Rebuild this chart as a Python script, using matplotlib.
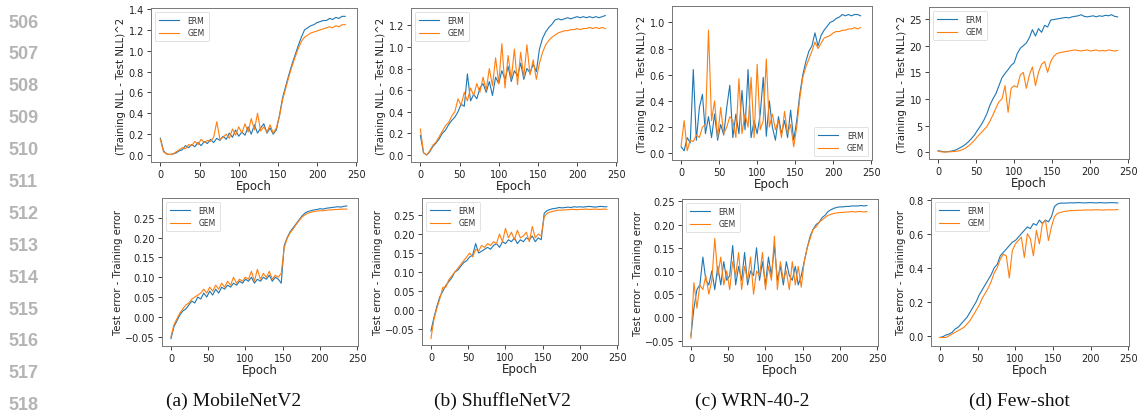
import numpy as np
import matplotlib
matplotlib.use("Agg")
import matplotlib.pyplot as plt

# ---------------- data ----------------
epochs = np.arange(0, 240, 4)

nll_mobilenet_erm = [0.16, 0.04, 0.01, 0.005, 0.01, 0.02, 0.04, 0.05, 0.09, 0.07,
                     0.10, 0.08, 0.12, 0.09, 0.13, 0.11, 0.15, 0.12, 0.16, 0.14,
                     0.18, 0.15, 0.21, 0.17, 0.24, 0.18, 0.22, 0.19, 0.27, 0.20,
                     0.29, 0.21, 0.26, 0.30, 0.21, 0.26, 0.20, 0.24, 0.38, 0.55,
                     0.66, 0.77, 0.87, 0.96, 1.05, 1.13, 1.20, 1.22, 1.24, 1.25,
                     1.27, 1.28, 1.29, 1.29, 1.31, 1.30, 1.32, 1.31, 1.33, 1.33]
nll_mobilenet_gem = [0.15, 0.03, 0.01, 0.005, 0.01, 0.03, 0.05, 0.07, 0.06, 0.10,
                     0.09, 0.13, 0.10, 0.15, 0.12, 0.14, 0.13, 0.17, 0.32, 0.15,
                     0.17, 0.20, 0.16, 0.25, 0.19, 0.27, 0.21, 0.30, 0.22, 0.35,
                     0.24, 0.40, 0.23, 0.27, 0.22, 0.29, 0.21, 0.26, 0.37, 0.53,
                     0.64, 0.75, 0.85, 0.94, 1.02, 1.09, 1.13, 1.15, 1.17, 1.18,
                     1.19, 1.20, 1.21, 1.22, 1.23, 1.22, 1.24, 1.23, 1.25, 1.25]

nll_shufflenet_erm = [0.18, 0.02, 0.00, 0.03, 0.08, 0.11, 0.15, 0.20, 0.23, 0.28,
                      0.32, 0.35, 0.40, 0.47, 0.45, 0.75, 0.50, 0.56, 0.52, 0.62,
                      0.66, 0.58, 0.68, 0.55, 0.72, 0.66, 0.78, 0.70, 0.82, 0.68,
                      0.78, 0.73, 0.85, 0.70, 0.80, 0.76, 0.84, 0.77, 0.98, 1.08,
                      1.14, 1.18, 1.21, 1.25, 1.26, 1.25, 1.26, 1.27, 1.26, 1.27,
                      1.28, 1.27, 1.28, 1.27, 1.28, 1.27, 1.28, 1.27, 1.28, 1.29]
nll_shufflenet_gem = [0.24, 0.02, 0.00, 0.04, 0.09, 0.12, 0.17, 0.22, 0.27, 0.30,
                      0.36, 0.40, 0.52, 0.46, 0.58, 0.50, 0.62, 0.55, 0.66, 0.58,
                      0.72, 0.60, 0.80, 0.64, 0.90, 0.66, 1.03, 0.62, 0.92, 0.70,
                      0.98, 0.65, 0.95, 0.72, 1.02, 0.74, 0.88, 0.70, 0.85, 0.95,
                      1.02, 1.06, 1.09, 1.11, 1.13, 1.14, 1.15, 1.15, 1.16, 1.16,
                      1.17, 1.16, 1.17, 1.17, 1.18, 1.17, 1.18, 1.17, 1.18, 1.17]

nll_wrn_erm = [0.05, 0.02, 0.12, 0.08, 0.64, 0.10, 0.35, 0.45, 0.15, 0.28,
               0.12, 0.30, 0.10, 0.22, 0.14, 0.35, 0.52, 0.12, 0.30, 0.15,
               0.48, 0.18, 0.64, 0.12, 0.25, 0.15, 0.30, 0.58, 0.13, 0.40,
               0.20, 0.10, 0.28, 0.15, 0.25, 0.12, 0.33, 0.10, 0.25, 0.45,
               0.60, 0.70, 0.78, 0.82, 0.92, 0.82, 0.90, 0.94, 0.97, 1.00,
               1.01, 1.03, 1.04, 1.06, 1.05, 1.06, 1.05, 1.06, 1.06, 1.05]
nll_wrn_gem = [0.06, 0.25, 0.02, 0.10, 0.09, 0.14, 0.12, 0.20, 0.22, 0.94,
               0.25, 0.40, 0.12, 0.35, 0.15, 0.20, 0.28, 0.25, 0.12, 0.57,
               0.15, 0.30, 0.20, 0.58, 0.12, 0.68, 0.18, 0.25, 0.72, 0.20,
               0.30, 0.18, 0.25, 0.12, 0.32, 0.15, 0.22, 0.05, 0.20, 0.42,
               0.58, 0.66, 0.72, 0.78, 0.85, 0.80, 0.84, 0.88, 0.89, 0.90,
               0.92, 0.93, 0.93, 0.94, 0.94, 0.95, 0.95, 0.96, 0.95, 0.96]

nll_fewshot_erm = [0.3, 0.2, 0.1, 0.1, 0.2, 0.3, 0.5, 0.8, 1.1, 1.5,
                   2.0, 2.6, 3.3, 4.2, 5.0, 6.0, 7.2, 8.8, 10.0, 11.0,
                   12.5, 14.0, 14.8, 15.5, 16.3, 16.8, 18.5, 19.5, 20.0, 20.5,
                   21.5, 23.0, 21.8, 23.2, 22.5, 23.8, 23.5, 24.8, 24.9, 25.0,
                   25.1, 25.2, 25.3, 25.2, 25.4, 25.5, 25.6, 25.8, 25.5, 25.4,
                   25.5, 25.6, 25.4, 25.6, 25.5, 25.7, 25.6, 25.8, 25.5, 25.4]
nll_fewshot_gem = [0.2, 0.1, 0.05, 0.1, 0.1, 0.15, 0.2, 0.3, 0.5, 0.8,
                   1.2, 1.7, 2.3, 3.0, 3.6, 4.2, 4.8, 5.8, 7.0, 8.3,
                   9.5, 10.0, 12.5, 7.5, 12.0, 12.5, 12.2, 14.5, 15.0, 12.0,
                   14.5, 16.0, 12.5, 15.0, 16.5, 17.0, 15.0, 17.0, 18.0, 18.5,
                   18.7, 18.8, 18.9, 19.0, 19.1, 19.2, 19.1, 19.0, 19.1, 19.2,
                   19.0, 19.1, 19.2, 19.0, 19.1, 19.0, 19.2, 19.1, 19.0, 19.1]

err_mobilenet_erm = [-0.055, -0.025, -0.01, 0.005, 0.015, 0.02, 0.03, 0.04, 0.035, 0.05,
                     0.045, 0.06, 0.05, 0.065, 0.055, 0.07, 0.06, 0.075, 0.07, 0.08,
                     0.075, 0.085, 0.08, 0.09, 0.085, 0.095, 0.09, 0.10, 0.085, 0.095,
                     0.09, 0.10, 0.095, 0.105, 0.09, 0.10, 0.095, 0.085, 0.18, 0.20,
                     0.215, 0.225, 0.235, 0.245, 0.255, 0.262, 0.266, 0.268, 0.27, 0.271,
                     0.273, 0.272, 0.274, 0.275, 0.276, 0.277, 0.278, 0.277, 0.279, 0.28]
err_mobilenet_gem = [-0.05, -0.02, -0.005, 0.01, 0.02, 0.03, 0.035, 0.045, 0.05, 0.055,
                     0.06, 0.07, 0.06, 0.075, 0.065, 0.08, 0.07, 0.085, 0.075, 0.09,
                     0.08, 0.10, 0.085, 0.095, 0.09, 0.10, 0.095, 0.115, 0.09, 0.12,
                     0.095, 0.11, 0.10, 0.115, 0.095, 0.105, 0.10, 0.11, 0.175, 0.198,
                     0.212, 0.222, 0.233, 0.243, 0.252, 0.258, 0.262, 0.264, 0.266, 0.267,
                     0.268, 0.268, 0.269, 0.27, 0.27, 0.271, 0.271, 0.272, 0.272, 0.272]

err_shufflenet_erm = [-0.055, -0.02, 0.01, 0.035, 0.05, 0.065, 0.075, 0.085, 0.10, 0.105,
                      0.115, 0.125, 0.13, 0.14, 0.145, 0.175, 0.15, 0.155, 0.16, 0.165,
                      0.16, 0.17, 0.175, 0.165, 0.18, 0.175, 0.185, 0.18, 0.19, 0.175,
                      0.185, 0.18, 0.19, 0.185, 0.195, 0.18, 0.19, 0.185, 0.255, 0.262,
                      0.265, 0.267, 0.268, 0.27, 0.269, 0.27, 0.271, 0.27, 0.272, 0.271,
                      0.272, 0.271, 0.272, 0.273, 0.272, 0.271, 0.272, 0.273, 0.272, 0.272]
err_shufflenet_gem = [-0.075, -0.025, 0.005, 0.03, 0.06, 0.06, 0.08, 0.09, 0.10, 0.11,
                      0.12, 0.13, 0.14, 0.15, 0.14, 0.16, 0.155, 0.17, 0.165, 0.175,
                      0.17, 0.18, 0.175, 0.20, 0.18, 0.215, 0.19, 0.205, 0.185, 0.21,
                      0.19, 0.195, 0.205, 0.18, 0.22, 0.19, 0.20, 0.195, 0.245, 0.255,
                      0.258, 0.26, 0.262, 0.263, 0.263, 0.264, 0.264, 0.265, 0.265, 0.264,
                      0.265, 0.265, 0.266, 0.265, 0.265, 0.266, 0.265, 0.265, 0.266, 0.265]

err_wrn_erm = [-0.04, 0.02, 0.06, 0.07, 0.13, 0.08, 0.07, 0.10, 0.06, 0.11,
               0.07, 0.12, 0.08, 0.09, 0.155, 0.07, 0.11, 0.08, 0.14, 0.07,
               0.10, 0.09, 0.15, 0.08, 0.12, 0.07, 0.13, 0.09, 0.155, 0.08,
               0.11, 0.07, 0.12, 0.09, 0.08, 0.11, 0.07, 0.09, 0.12, 0.15,
               0.175, 0.19, 0.20, 0.205, 0.215, 0.22, 0.228, 0.232, 0.235, 0.237,
               0.238, 0.238, 0.239, 0.239, 0.24, 0.24, 0.24, 0.241, 0.24, 0.241]
err_wrn_gem = [-0.045, 0.075, 0.02, 0.07, 0.06, 0.09, 0.05, 0.08, 0.17, 0.09,
               0.13, 0.07, 0.10, 0.06, 0.12, 0.09, 0.14, 0.06, 0.11, 0.08,
               0.13, 0.05, 0.10, 0.09, 0.14, 0.06, 0.11, 0.08, 0.175, 0.06,
               0.12, 0.08, 0.10, 0.06, 0.12, 0.07, 0.11, 0.065, 0.12, 0.15,
               0.17, 0.19, 0.195, 0.205, 0.21, 0.215, 0.22, 0.222, 0.224, 0.225,
               0.226, 0.226, 0.227, 0.227, 0.228, 0.227, 0.228, 0.228, 0.227, 0.228]

err_fewshot_erm = [-0.01, -0.005, 0.005, 0.01, 0.02, 0.04, 0.05, 0.07, 0.09, 0.11,
                   0.14, 0.17, 0.20, 0.24, 0.27, 0.30, 0.33, 0.36, 0.40, 0.42,
                   0.47, 0.49, 0.51, 0.53, 0.55, 0.56, 0.58, 0.60, 0.62, 0.64,
                   0.63, 0.66, 0.65, 0.68, 0.66, 0.68, 0.67, 0.70, 0.76, 0.775,
                   0.78, 0.78, 0.78, 0.782, 0.781, 0.782, 0.783, 0.782, 0.781, 0.782,
                   0.783, 0.782, 0.781, 0.783, 0.782, 0.781, 0.782, 0.783, 0.782, 0.781]
err_fewshot_gem = [-0.01, -0.01, -0.01, 0.0, 0.01, 0.02, 0.03, 0.04, 0.05, 0.07,
                   0.09, 0.12, 0.15, 0.18, 0.22, 0.25, 0.28, 0.32, 0.37, 0.40,
                   0.45, 0.48, 0.47, 0.34, 0.50, 0.54, 0.56, 0.58, 0.46, 0.60,
                   0.57, 0.47, 0.62, 0.54, 0.66, 0.68, 0.56, 0.64, 0.70, 0.72,
                   0.725, 0.73, 0.733, 0.735, 0.736, 0.737, 0.738, 0.738, 0.739, 0.74,
                   0.739, 0.74, 0.741, 0.74, 0.739, 0.74, 0.741, 0.74, 0.741, 0.742]

captions = ["(a) MobileNetV2", "(b) ShuffleNetV2", "(c) WRN-40-2", "(d) Few-shot"]
line_numbers = list(range(506, 519))
series_labels = ["ERM", "GEM"]
top_ylabel = "(Training NLL - Test NLL)^2"
bottom_ylabel = "Test error - Training error"
xlabel = "Epoch"

# ---------------- layout ----------------
W, H = 1137, 414
fig = plt.figure(figsize=(W / 100, H / 100), dpi=100)

def px_axes(x0, y0, x1, y1):
    return fig.add_axes([x0 / W, 1 - y1 / H, (x1 - x0) / W, (y1 - y0) / H])

ERM_C = "#1f77b4"
GEM_C = "#ff7f0e"

top_specs = [
    ((151, 9, 357, 163), nll_mobilenet_erm, nll_mobilenet_gem, (-0.067, 1.41), [0.0, 0.2, 0.4, 0.6, 0.8, 1.0, 1.2, 1.4], "upper left"),
    ((411, 9, 617, 163), nll_shufflenet_erm, nll_shufflenet_gem, (-0.065, 1.36), [0.0, 0.2, 0.4, 0.6, 0.8, 1.0, 1.2], "upper left"),
    ((672, 7, 872, 161), nll_wrn_erm, nll_wrn_gem, (-0.051, 1.125), [0.0, 0.2, 0.4, 0.6, 0.8, 1.0], "lower right"),
    ((929, 8, 1129, 160), nll_fewshot_erm, nll_fewshot_gem, (-1.25, 27.25), [0, 5, 10, 15, 20, 25], "upper left"),
]
bottom_specs = [
    ((162, 199, 358, 347), err_mobilenet_erm, err_mobilenet_gem, (-0.0735, 0.3), [-0.05, 0.0, 0.05, 0.10, 0.15, 0.20, 0.25], "upper left"),
    ((422, 199, 618, 346), err_shufflenet_erm, err_shufflenet_gem, (-0.092, 0.295), [-0.05, 0.0, 0.05, 0.10, 0.15, 0.20, 0.25], "upper left"),
    ((682, 200, 878, 347), err_wrn_erm, err_wrn_gem, (-0.0615, 0.255), [-0.05, 0.0, 0.05, 0.10, 0.15, 0.20, 0.25], "upper left"),
    ((931, 199, 1129, 347), err_fewshot_erm, err_fewshot_gem, (-0.06, 0.81), [0.0, 0.2, 0.4, 0.6, 0.8], "upper left"),
]

def style_axes(ax, ylim, yticks, ylabel, loc, fmt):
    ax.set_xlim(-12, 251)
    ax.set_ylim(*ylim)
    ax.set_xticks([0, 50, 100, 150, 200, 250])
    ax.set_yticks(yticks)
    ax.set_yticklabels([fmt(v) for v in yticks])
    ax.tick_params(labelsize=7, length=3, width=0.6, pad=2, colors="#222222")
    for s in ax.spines.values():
        s.set_color("#777777")
        s.set_linewidth(0.7)
    ax.set_xlabel(xlabel, fontsize=8.5, labelpad=0, color="#222222")
    ax.set_ylabel(ylabel, fontsize=7.3, labelpad=2, color="#222222")
    leg = ax.legend(loc=loc, fontsize=5.5, handlelength=2.6, frameon=True,
                    borderpad=0.5, labelspacing=0.5, handletextpad=1.2,
                    borderaxespad=0.5)
    leg.get_frame().set_linewidth(0.5)
    leg.get_frame().set_edgecolor("#cccccc")
    for t in leg.get_texts():
        t.set_color("#333333")

for i, (box, erm, gem, ylim, yt, loc) in enumerate(top_specs):
    ax = px_axes(*box)
    ax.plot(epochs, erm, color=ERM_C, lw=0.8, label=series_labels[0])
    ax.plot(epochs, gem, color=GEM_C, lw=0.8, label=series_labels[1])
    f = (lambda v: f"{v:.0f}") if i == 3 else (lambda v: f"{v:.1f}")
    style_axes(ax, ylim, yt, top_ylabel, loc, f)

for i, (box, erm, gem, ylim, yt, loc) in enumerate(bottom_specs):
    ax = px_axes(*box)
    ax.plot(epochs, erm, color=ERM_C, lw=0.8, label=series_labels[0])
    ax.plot(epochs, gem, color=GEM_C, lw=0.8, label=series_labels[1])
    f = (lambda v: f"{v:.1f}") if i == 3 else (lambda v: f"{v:.2f}".replace("-", "\u2212"))
    style_axes(ax, ylim, yt, bottom_ylabel, loc, f)

# captions
cap_x = [234, 502, 752, 1019]
for cx, c in zip(cap_x, captions):
    fig.text(cx / W, 1 - 401 / H, c, ha="center", va="center",
             fontsize=14, family="Liberation Serif", color="#111111")

# line numbers
for k, n in enumerate(line_numbers):
    y = 23 + 31.9 * k
    fig.text(8 / W, 1 - y / H, str(n), ha="left", va="center",
             fontsize=13, family="Liberation Sans", fontweight="bold",
             color="#b4b4b4")

fig.savefig("out.png", dpi=100)
